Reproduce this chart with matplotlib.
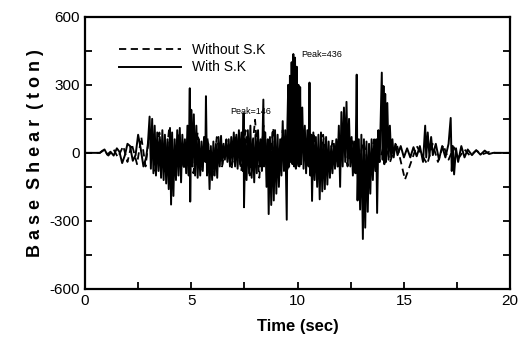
import matplotlib
matplotlib.use("Agg")
from matplotlib import pyplot as plt
from matplotlib.ticker import MultipleLocator

plt.rcParams["font.family"] = ["Liberation Sans", "DejaVu Sans"]
plt.rcParams["axes.unicode_minus"] = False

# base shear with S.K (solid)
t_with = [0.0, 0.7, 0.8, 0.92, 1.05, 1.2, 1.35, 1.5, 1.62, 1.75, 1.88, 2.0, 2.12, 2.25,
          2.38, 2.5, 2.62, 2.75, 2.88, 2.96,
          3.04, 3.1, 3.16, 3.22, 3.28, 3.34, 3.4, 3.46, 3.52, 3.58, 3.64, 3.7, 3.76, 3.82,
          3.88, 3.94, 4.0, 4.05, 4.1, 4.16, 4.22, 4.28, 4.34, 4.4, 4.46, 4.52, 4.58, 4.64,
          4.7, 4.76, 4.82, 4.88, 4.93, 4.95, 5.0, 5.06, 5.12, 5.18, 5.24, 5.3, 5.36, 5.42,
          5.48, 5.54, 5.6, 5.66, 5.69, 5.74, 5.8, 5.86, 5.92, 5.98, 6.04, 6.1, 6.16, 6.22,
          6.28, 6.34, 6.4, 6.46, 6.52, 6.58, 6.64, 6.7, 6.76, 6.82, 6.88, 6.94,
          7.0, 7.06, 7.12, 7.18, 7.24, 7.3, 7.36, 7.42, 7.46, 7.48, 7.54, 7.6, 7.66, 7.72,
          7.78, 7.84, 7.9, 7.96, 8.02, 8.08, 8.14, 8.2, 8.26, 8.32, 8.39, 8.42, 8.48, 8.54,
          8.6, 8.64, 8.7, 8.76, 8.82, 8.88, 8.94, 9.0, 9.06, 9.12, 9.18, 9.24, 9.3, 9.36,
          9.42, 9.49, 9.52, 9.56, 9.6, 9.64, 9.68, 9.72, 9.76, 9.8, 9.84, 9.88, 9.92, 9.96,
          10.0, 10.04, 10.08, 10.12, 10.16, 10.22, 10.28, 10.34, 10.4, 10.46, 10.52, 10.56,
          10.6, 10.64, 10.68, 10.74, 10.8, 10.86, 10.92, 10.98, 11.04, 11.1, 11.16, 11.22,
          11.28, 11.34, 11.4, 11.46, 11.52, 11.58, 11.64, 11.7, 11.76, 11.82, 11.88, 11.94,
          12.0, 12.06, 12.12, 12.18, 12.24, 12.3, 12.36, 12.42, 12.48, 12.54, 12.6, 12.66,
          12.72, 12.78, 12.82, 12.88, 12.94, 13.0, 13.07, 13.12, 13.18, 13.24, 13.3, 13.36,
          13.42, 13.48, 13.54, 13.6, 13.66, 13.7, 13.74, 13.8, 13.86, 13.92, 13.96, 14.0,
          14.04, 14.08, 14.12, 14.16, 14.22, 14.28, 14.34, 14.4, 14.46, 14.52, 14.6,
          14.7, 14.85, 15.0, 15.15, 15.3, 15.45, 15.6, 15.75, 15.9, 16.0, 16.05, 16.12,
          16.2, 16.28, 16.36, 16.5, 16.65, 16.8, 16.95, 17.1, 17.2, 17.25, 17.3, 17.36,
          17.45, 17.55, 17.7, 17.85, 18.0, 18.2, 18.4, 18.6, 18.8, 19.0, 19.2, 20.0]
v_with = [0, 0, 8, 15, -8, 5, -12, 20, 5, -45, -10, 40, 30, -35,
          -10, 80, 20, -60, -20, 40,
          160, -70, 150, -90, 120, -100, 90, -80, 70, -110, 100, -120, 80, -135,
          60, -160, 110, -228, 90, -190, 60, -120, 100, -100, 110, -130, 80, -60,
          60, -90, 120, -100, 285, -215, 190, -60, 170, -100, 120, -110, 60, -100,
          50, -80, 70, -40, 250, -100, 40, -160, 30, -120, 50, -100, 40, -110,
          70, -60, 75, -50, 40, -30, 50, -40, 60, -60, 70, -40,
          90, -60, 80, -70, 100, -50, 90, -80, 175, -240, 60, -120, 100, -90,
          120, -110, 60, -130, 80, -90, 100, -60, 60, -80, 235, -60, 90, -150,
          60, -270, 70, -230, 90, -210, 100, -180, 80, -150, 60, -100, 140, -80,
          100, -295, 120, 300, -60, 340, -40, 400, -50, 436, -60, 420, -70, 380,
          -40, 300, -60, 290, -50, 200, -70, 120, -90, 100, -60, 310,
          -100, 80, -212, 90, -120, 70, -150, 80, -205, 90, -170, 60,
          -160, 70, -140, 50, -110, 30, -90, 40, -70, 60, -60, 120,
          -150, 180, -60, 200, -40, 225, -50, 150, -60, 70, -100, 50,
          -90, 345, -210, 60, -250, 80, -380, 60, -330, 50, -260, 40,
          -180, 60, -120, 50, -80, 60, -265, 100, -40, 200, 354, -30,
          295, -50, 260, -40, 220, -30, 120, -20, 60, -20, 40,
          -10, 30, -20, 20, -20, 25, -15, 30, -40, 120, -20, 90,
          -15, 70, -10, 40, -30, 30, -20, 40, 154, -80, 30, -95,
          20, -40, 30, -20, 15, -10, 12, -8, 10, -5, 0, 0]

# base shear without S.K (dashed)
t_without = [0.0, 0.7, 0.9, 1.1, 1.35, 1.55, 1.8, 2.0, 2.2, 2.45, 2.65, 2.85, 3.05, 3.3,
             3.5, 3.75, 3.95, 4.2, 4.4, 4.65, 4.85, 5.1, 5.3, 5.5, 5.75, 6.0, 6.2, 6.45,
             6.65, 6.9, 7.1, 7.35, 7.55, 7.75, 8.0, 8.2, 8.4, 8.65, 8.85, 9.1, 9.3, 9.55,
             9.8, 10.05, 10.3, 10.55, 10.75, 11.0, 11.2, 11.45, 11.65, 11.9, 12.1, 12.35,
             12.6, 12.85, 13.1, 13.35, 13.6, 13.85, 14.1, 14.35, 14.65, 15.05, 15.6, 15.85,
             16.1, 16.35, 16.6, 16.85, 17.1, 17.35, 17.6, 17.85, 18.1, 18.4, 18.7, 19.0,
             19.3, 20.0]
v_without = [0, 0, 12, -12, 15, -20, 30, -40, 40, -50, 70, -60, 100, -80,
             90, -90, 100, -90, 90, -70, 80, -90, 90, -80, 70, -100, 70, -60,
             60, -70, 80, -80, 100, -100, 146, -110, 120, -100, 110, -110, 100, -80,
             80, -70, 90, -60, 90, -80, 80, -70, 60, -60, 50, -60,
             60, -50, 50, -60, 60, -40, 50, -40, 45, -118, 30, -10,
             -50, 40, -40, 35, -30, 25, -20, 15, -12, 10, -6, 4,
             0, 0]

fig = plt.figure(figsize=(5.18, 3.51), dpi=100)
ax = fig.add_axes([0.164, 0.177, 0.821, 0.775])

ax.plot(t_without, v_without, color="k", linestyle=(0, (4, 2.5)), linewidth=1.3,
        label="Without S.K")
ax.plot(t_with, v_with, color="k", linestyle="-", linewidth=1.4, label="With S.K")

ax.text(6.85, 172, "Peak=146", fontsize=6.5)
ax.text(10.15, 425, "Peak=436", fontsize=6.5)

ax.set_xlim(0, 20)
ax.set_ylim(-600, 600)
ax.xaxis.set_major_locator(MultipleLocator(5))
ax.xaxis.set_minor_locator(MultipleLocator(2.5))
ax.yaxis.set_major_locator(MultipleLocator(300))
ax.yaxis.set_minor_locator(MultipleLocator(150))
ax.tick_params(which="both", direction="in", right=True, labelsize=11)
ax.tick_params(which="major", length=5, width=1.3)
ax.tick_params(which="minor", length=5, width=1.3)
for s in ax.spines.values():
    s.set_linewidth(1.6)

ax.set_xlabel("Time (sec)", fontsize=12, fontweight="bold", labelpad=8)
ax.set_ylabel("B a s e  S h e a r  ( t o n )", fontsize=13, fontweight="bold", labelpad=4)

ax.legend(loc="upper left", bbox_to_anchor=(0.05, 0.95), frameon=False, fontsize=10,
          handlelength=4.5, labelspacing=0.25)

fig.savefig("out.png", dpi=100)
